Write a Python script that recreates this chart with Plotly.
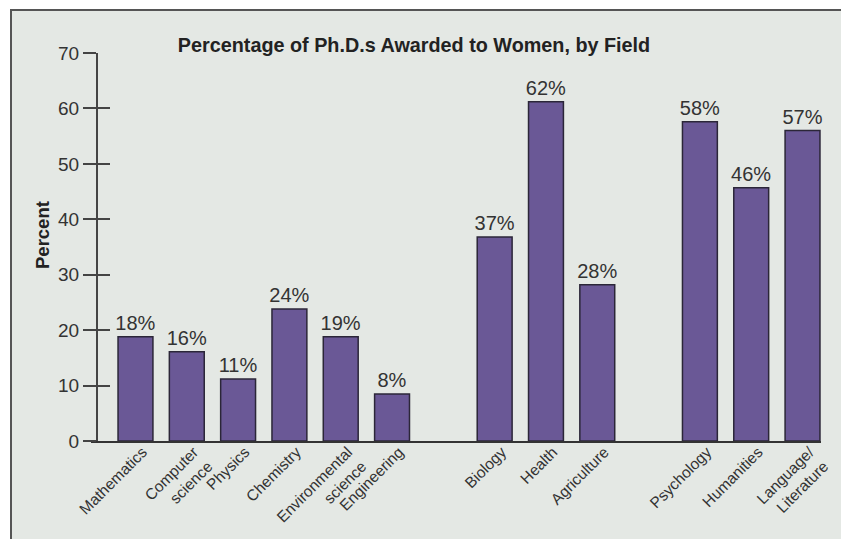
import plotly.graph_objects as go

# ---- data ----
fields = ["Mathematics", "Computer<br>science", "Physics", "Chemistry",
          "Environmental<br>science", "Engineering",
          "Biology", "Health", "Agriculture",
          "Psychology", "Humanities", "Language/<br>Literature"]
bar_heights = [18.8, 16.1, 11.2, 23.8, 18.8, 8.5, 36.8, 61.2, 28.2, 57.6, 45.7, 56.0]
pct_labels = ["18%", "16%", "11%", "24%", "19%", "8%", "37%", "62%", "28%", "58%", "46%", "57%"]
# category order with blank spacer slots between field groups
category_order = fields[:6] + [" "] + fields[6:9] + ["  "] + fields[9:]
y_ticks = [0, 10, 20, 30, 40, 50, 60, 70]

W, H = 849, 539
OFF = 8  # page body margin offset in the browser
L, R, T, B = 91 - OFF, 28 + OFF, 53 - OFF, 98 + OFF
pw, ph = W - L - R, H - T - B

def px_x(p):
    return (p - OFF - L) / pw

def px_y(p):
    return (H - B - (p - OFF)) / ph

FONT = "Liberation Sans, Arial, sans-serif"
BAR = "#6a5896"
BG = "#e4e8e4"

fig = go.Figure()
fig.add_trace(go.Bar(
    x=fields, y=bar_heights, text=pct_labels, textposition="outside",
    constraintext="none",
    textfont=dict(size=20, color="#333333", family=FONT),
    marker=dict(color=BAR, line=dict(color="#2b2638", width=1.5)),
    width=0.68, cliponaxis=False, hoverinfo="skip",
))
# invisible companion trace so the inner-tick overlay axis is drawn
fig.add_trace(go.Scatter(
    x=fields, y=bar_heights, yaxis="y2", mode="markers",
    marker=dict(opacity=0), hoverinfo="skip", showlegend=False,
))

fig.update_layout(
    width=W, height=H,
    margin=dict(l=L, r=R, t=T, b=B, pad=0),
    paper_bgcolor="white", plot_bgcolor="rgba(0,0,0,0)",
    showlegend=False,
    font=dict(family=FONT, color="#333333"),
    title=dict(text="<b>Percentage of Ph.D.s Awarded to Women, by Field</b>",
               x=(414 - OFF) / W, xanchor="center", y=1 - (45 - OFF) / H, yanchor="middle",
               xref="container", yref="container",
               font=dict(size=19.8, color="#222222", family=FONT)),
    xaxis=dict(type="category", categoryorder="array", categoryarray=category_order,
               range=[-0.867, 13.36], showline=True, linecolor="#333333", linewidth=2,
               ticks="", tickangle=-45, showgrid=False, zeroline=False, automargin=False,
               ticklabelshift=7, ticklabelstandoff=-6,
               tickfont=dict(size=15.5, color="#333333", family=FONT)),
    yaxis=dict(range=[0, 70], tickvals=y_ticks, anchor="free", position=6 / pw,
               showline=True, linecolor="#444444", linewidth=2,
               ticks="outside", ticklen=13, tickwidth=2, tickcolor="#444444",
               showgrid=False, zeroline=False, automargin=False,
               tickfont=dict(size=19, color="#333333", family=FONT)),
    yaxis2=dict(range=[0, 70], tickvals=y_ticks[1:], overlaying="y", anchor="free",
                position=6 / pw, side="left", showline=False, automargin=False,
                ticks="inside", ticklen=12, tickwidth=2, tickcolor="#444444",
                showticklabels=False, showgrid=False, zeroline=False),
    shapes=[dict(type="rect", xref="paper", yref="paper",
                 x0=px_x(11), x1=px_x(870), y0=px_y(560), y1=px_y(10),
                 fillcolor=BG, line=dict(color="#555555", width=2), layer="below")],
    annotations=[dict(text="<b>Percent</b>", textangle=-90, xref="paper", yref="paper",
                      x=px_x(42), y=px_y(235), xanchor="center", yanchor="middle",
                      showarrow=False, font=dict(size=18.5, color="#222222", family=FONT))],
)

fig.write_html("out.html")
